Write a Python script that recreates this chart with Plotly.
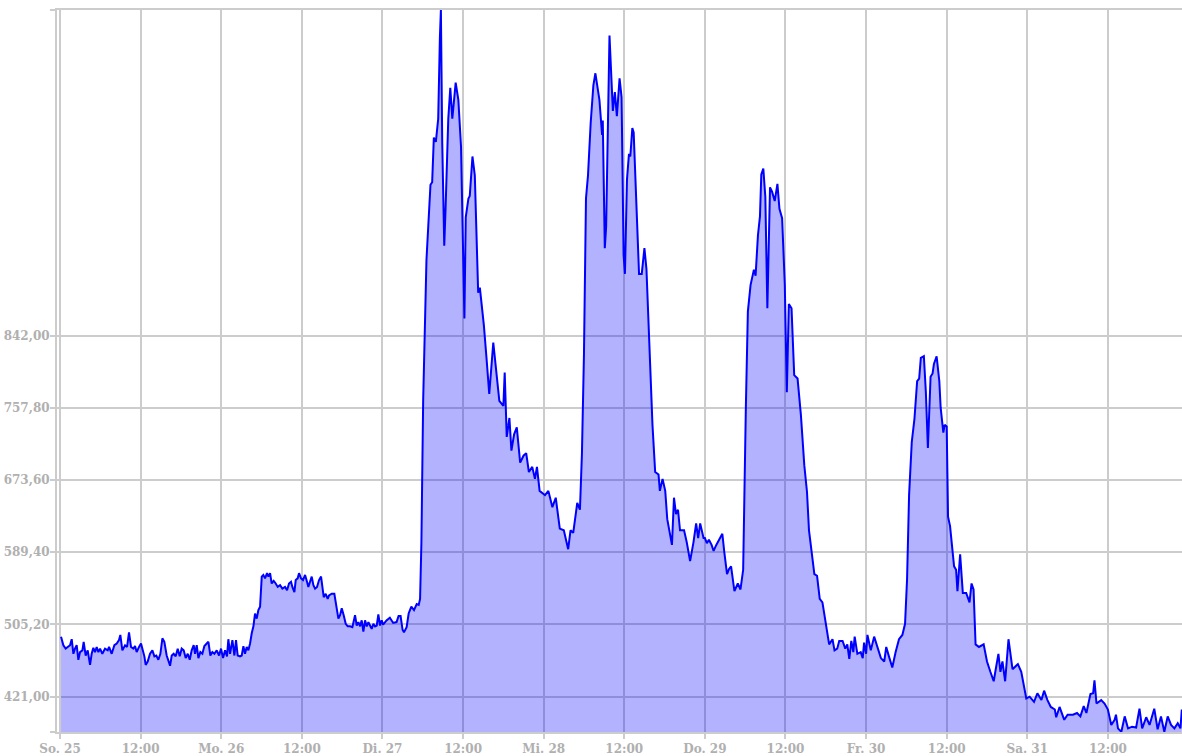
import pandas as pd
import plotly.graph_objects as go

START = "2018-03-25 00:00"

# --- Sunday / Monday (hours since So. 25 00:00, values) ---
hours_sun_mon = [0.15, 0.50, 0.84, 1.14, 1.49, 1.74, 1.99, 2.23, 2.48, 2.73, 2.98, 3.33, 3.52, 3.82, 4.12,
                 4.47, 4.71, 4.96, 5.21, 5.46, 5.71, 5.96, 6.30, 6.70, 7.10, 7.30, 7.69, 8.09, 8.44, 8.78,
                 8.98, 9.28, 9.68, 9.98, 10.27, 10.57, 10.92, 11.17, 11.41, 11.76, 12.06, 12.26, 12.56,
                 12.75, 13.05, 13.40, 13.75, 14.05, 14.34, 14.64, 14.94, 15.24, 15.53, 15.88, 16.13,
                 16.38, 16.63, 16.92, 17.22, 17.52, 17.82, 18.11, 18.41, 18.71, 19.01, 19.31, 19.60,
                 19.90, 20.10, 20.35, 20.60, 20.89, 21.19, 21.49, 21.84, 22.09, 22.38, 22.68, 22.98,
                 23.33, 23.67, 23.97, 24.27, 24.57, 24.86, 25.06, 25.31, 25.66, 25.96, 26.20, 26.45,
                 26.80, 27.05, 27.30, 27.54, 27.79, 28.04, 28.29, 28.54, 28.79, 29.03, 29.28, 29.53,
                 29.78, 30.03, 30.27, 30.52, 30.82, 31.02, 31.27, 31.51, 31.81, 32.11, 32.41, 32.76,
                 33.10, 33.50, 33.80, 34.09, 34.39, 34.59, 34.89, 35.09, 35.38, 35.58, 35.88, 36.18,
                 36.48, 36.77, 36.97, 37.22, 37.47, 37.72, 37.97, 38.26, 38.56, 38.86, 39.06, 39.26,
                 39.55, 39.85, 40.05, 40.45, 40.84, 41.19, 41.44, 41.69, 41.94, 42.23, 42.53, 42.83,
                 43.18, 43.52, 43.92, 44.17, 44.42, 44.67, 44.91, 45.16, 45.41, 45.66, 45.91, 46.15,
                 46.40, 46.65, 46.90, 47.15, 47.39, 47.64, 47.89]
values_sun_mon = [491, 481, 477, 479, 481, 488, 471, 477, 481, 464, 473, 475, 485, 469, 475,
                  458, 471, 478, 473, 479, 473, 477, 471, 477, 475, 479, 471, 481, 483, 487,
                  493, 475, 481, 479, 496, 479, 477, 480, 473, 479, 483, 477, 468,
                  458, 462, 471, 475, 468, 469, 464, 471, 489, 485, 469, 464,
                  457, 469, 471, 468, 477, 468, 477, 475, 466, 471, 464, 475,
                  481, 471, 481, 466, 473, 471, 480, 483, 485, 469, 473, 471,
                  475, 469, 477, 466, 475, 468, 488, 471, 487, 469, 487, 469,
                  468, 469, 480, 471, 479, 475, 483, 495, 503, 518, 512, 522,
                  526, 561, 563, 559, 565, 561, 565, 553, 556, 553, 549, 551,
                  547, 549, 545, 553, 555, 549, 543, 557, 559, 565, 559, 557,
                  563, 555, 549, 555, 561, 551, 547, 549, 557, 561, 545, 537,
                  541, 535, 539, 541, 541, 526, 512, 516, 524, 516, 506, 503,
                  503, 502, 516, 504, 508, 503, 510, 497, 510, 503, 508, 504,
                  500, 506, 503, 504, 517, 504, 510]

# --- Tuesday / Wednesday ---
hours_tue_wed = [48.1, 48.6, 49.1, 49.6, 50.1, 50.4, 50.7, 51.0, 51.2, 51.6, 51.9, 52.3, 52.7, 53.1,
                 53.4, 53.6, 53.8, 54.06, 54.55, 55.15, 55.4, 55.65, 55.95, 56.3, 56.55, 56.7, 56.9,
                 57.2, 57.4, 57.8, 58.1, 58.4, 58.9, 59.3, 59.7, 60.2, 60.4, 60.8, 61.0, 61.4, 61.75,
                 62.25, 62.5, 63.1, 63.5, 63.9, 64.5, 64.9, 65.4, 66.0, 66.2, 66.5, 66.9, 67.2, 67.6,
                 68.0, 68.5, 69.0, 69.4, 69.8, 70.3, 70.7, 71.0, 71.4, 72.2, 72.7, 73.3, 73.8, 74.4,
                 75.0, 75.65, 76.0, 76.4, 77.0, 77.4, 77.7, 78.0, 78.3, 78.6, 79.0, 79.4, 79.7, 80.1,
                 80.3, 80.7, 80.8, 81.1, 81.3, 81.8, 82.3, 82.6, 82.9, 83.3, 83.6, 83.9, 84.1, 84.4,
                 84.7, 84.9, 85.2, 85.4, 85.8, 86.2, 86.6, 87.0, 87.3, 87.8, 88.2, 88.6, 89.1, 89.3,
                 89.7, 90.1, 90.4, 91.1, 91.4, 91.7, 92.0, 92.3, 92.9, 93.3, 93.8, 94.3, 94.7, 95.0,
                 95.3, 95.8]
values_tue_wed = [505, 510, 513, 507, 508, 515, 515, 499, 496, 502, 518, 526, 522, 529,
                  528, 535, 601, 766, 930, 1018, 1021, 1073, 1068, 1095, 1189, 1222, 1068,
                  947, 991, 1095, 1131, 1095, 1137, 1117, 1062, 862, 980, 1002, 1005, 1051, 1029,
                  892, 898, 854, 815, 774, 834, 804, 766, 760, 799, 724, 746, 708, 727,
                  735, 694, 702, 705, 683, 689, 675, 689, 661, 656, 661, 642, 653, 617,
                  615, 593, 615, 612, 647, 639, 705, 821, 1002, 1029, 1090, 1134, 1148, 1123,
                  1117, 1076, 1093, 944, 969, 1192, 1104, 1126, 1098, 1142, 1120, 936, 914, 1024,
                  1054, 1051, 1084, 1079, 996, 914, 914, 944, 920, 821, 738, 683, 680, 661,
                  675, 661, 628, 598, 653, 634, 639, 615, 615, 601, 579, 601, 623, 606,
                  623, 606]

# --- Thursday / Friday ---
hours_thu_fri = [96.0, 96.3, 96.6, 97.0, 97.3, 97.7, 98.1, 98.6, 98.9, 99.3, 99.6, 99.9, 100.4, 100.9,
                 101.3, 101.7, 102.1, 102.4, 102.8, 103.3, 103.55, 103.9, 104.2, 104.4, 104.7, 105.0,
                 105.3, 105.7, 106.0, 106.4, 106.8, 107.1, 107.5, 107.9, 108.2, 108.5, 108.9, 109.3,
                 109.8, 110.3, 110.8, 111.2, 111.5, 111.9, 112.3, 112.7, 113.1, 113.5, 114.0, 114.5,
                 115.0, 115.3, 115.7, 116.0, 116.5, 116.9, 117.2, 117.5, 117.8, 118.1, 118.3, 118.7,
                 119.2, 119.5, 119.7, 120.0, 120.2, 120.7, 121.2, 121.7, 122.2, 122.7, 123.0, 123.4,
                 123.9, 124.4, 124.9, 125.4, 125.8, 126.1, 126.4, 126.8, 127.2, 127.6, 127.9, 128.15,
                 128.6, 128.9, 129.2, 129.6, 129.9, 130.1, 130.5, 130.9, 131.1, 131.5, 131.7, 132.0,
                 132.2, 132.5, 132.9, 133.1, 133.4, 133.6, 134.0, 134.4, 134.9, 135.4, 135.7, 136.0,
                 136.3, 136.8, 137.5, 138.0, 138.5, 139.0, 139.3, 139.7, 140.0, 140.3, 140.7, 141.2,
                 141.8, 142.6, 143.1]
values_thu_fri = [606, 600, 604, 598, 591, 598, 604, 611, 589, 564, 570, 573, 544, 553,
                  546, 569, 758, 870, 901, 919, 912, 959, 981, 1030, 1037, 1004,
                  874, 1015, 1010, 999, 1019, 990, 979, 901, 776, 879, 874, 796,
                  792, 749, 691, 660, 615, 591, 564, 562, 535, 531, 504, 482,
                  488, 475, 477, 486, 486, 477, 482, 465, 486, 473, 491, 471,
                  473, 466, 484, 471, 493, 475, 491, 477, 466, 462, 479, 468,
                  455, 473, 488, 493, 506, 558, 656, 718, 745, 789, 792, 816,
                  818, 776, 711, 794, 798, 809, 818, 789, 758, 729, 738, 736,
                  631, 620, 591, 573, 569, 544, 587, 542, 542, 531, 553, 546,
                  482, 479, 482, 462, 450, 439, 453, 471, 450, 462, 439, 488,
                  453, 459, 450]

# --- Saturday ---
hours_sat = [143.85, 144.35, 145.0, 145.5, 146.1, 146.5, 147.0, 147.5, 148.1, 148.3, 148.8, 149.5,
             150.0, 150.8, 151.4, 151.9, 152.4, 152.8, 153.4, 153.8, 154.0, 154.3, 155.0, 155.5,
             156.0, 156.5, 157.0, 157.2, 157.5, 158.0, 158.5, 159.0, 159.6, 160.2, 160.7, 161.1,
             161.7, 162.2, 162.9, 163.4, 163.9, 164.4, 164.9, 165.4, 165.9, 166.4, 166.8, 167.0]
values_sat = [419, 421, 415, 425, 417, 428, 417, 409, 406, 397, 409, 394,
              400, 400, 402, 398, 410, 402, 424, 425, 440, 413, 417, 413,
              406, 388, 394, 400, 384, 380, 398, 384, 386, 385, 407, 384,
              397, 388, 407, 383, 398, 380, 398, 388, 384, 390, 384, 406]

x_tick_labels = ["So. 25", "12:00", "Mo. 26", "12:00", "Di. 27", "12:00", "Mi. 28", "12:00",
                 "Do. 29", "12:00", "Fr. 30", "12:00", "Sa. 31", "12:00"]
y_tick_values = [421.0, 505.2, 589.4, 673.6, 757.8, 842.0]
y_tick_labels = ["421,00", "505,20", "589,40", "673,60", "757,80", "842,00"]
y_min, y_max = 379.8, 1221.8

hours = hours_sun_mon + hours_tue_wed + hours_thu_fri + hours_sat
values = values_sun_mon + values_tue_wed + values_thu_fri + values_sat

t0 = pd.Timestamp(START)
times = [t0 + pd.Timedelta(hours=h) for h in hours]
x_ticks = [t0 + pd.Timedelta(hours=12 * i) for i in range(len(x_tick_labels))]

fig = go.Figure()
fig.add_trace(go.Scatter(
    x=times, y=values, mode="lines",
    line=dict(color="#0000ff", width=2),
    fill="tozeroy", fillcolor="rgba(0,0,255,0.3)",
    hoverinfo="skip",
))

font = dict(family="DejaVu Serif", size=12, color="#b0b0b0", weight="bold")
grid = "#cccccc"

fig.update_layout(
    width=1182, height=756,
    margin=dict(l=57, r=0, t=10, b=24, autoexpand=False),
    paper_bgcolor="white", plot_bgcolor="white",
    showlegend=False,
    xaxis=dict(
        type="date",
        range=[t0 - pd.Timedelta(hours=0.45), t0 + pd.Timedelta(hours=167.03)],
        tickmode="array", tickvals=x_ticks, ticktext=x_tick_labels,
        showgrid=True, gridcolor=grid, gridwidth=2,
        ticks="outside", ticklen=5, tickwidth=2, tickcolor=grid,
        showline=True, linecolor=grid, linewidth=2, mirror=True,
        tickfont=font, zeroline=False, automargin=False,
    ),
    yaxis=dict(
        range=[y_min, y_max],
        tickmode="array",
        tickvals=[y_min + 0.1] + y_tick_values + [y_max - 0.1],
        ticktext=[""] + y_tick_labels + [""],
        showgrid=True, gridcolor=grid, gridwidth=2,
        ticks="outside", ticklen=5, tickwidth=2, tickcolor=grid,
        showline=True, linecolor=grid, linewidth=2,
        tickfont=font, zeroline=False, automargin=False,
        ticklabelstandoff=-2,
    ),
)

fig.write_html("out.html", config={"displayModeBar": False},
               post_script="document.body.style.margin='0';document.body.style.overflow='hidden';")
